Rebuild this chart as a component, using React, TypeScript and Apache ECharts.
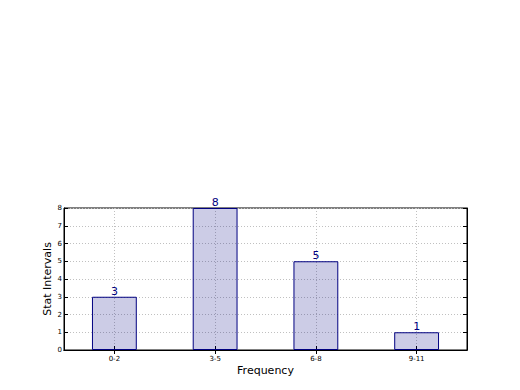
import React, { useEffect, useRef } from "react";
import * as echarts from "echarts";

const categories = ["0-2", "3-5", "6-8", "9-11"];
const values = [3, 8, 5, 1];
const yMin = 0;
const yMax = 8;
const yStep = 1;

const FONT = "DejaVu Sans";

export default function App() {
  const ref = useRef<HTMLDivElement>(null);
  useEffect(() => {
    const chart = echarts.init(ref.current!, null, { renderer: "svg" });
    const gridLine = { show: true, alignWithLabel: true, lineStyle: { color: "#c0c0c0", type: [1, 2], width: 1 } };
    const tick = { show: true, inside: true, length: 4, alignWithLabel: true, lineStyle: { color: "#000" } };
    chart.setOption({
      animation: false,
      backgroundColor: "#fff",
      textStyle: { fontFamily: FONT },
      grid: { left: 64, right: 53, top: 208, bottom: 40, show: true, borderColor: "#000", borderWidth: 1, backgroundColor: "transparent" },
      xAxis: [
        {
          type: "category",
          data: categories,
          boundaryGap: true,
          axisLine: { show: true, lineStyle: { color: "#000" } },
          axisTick: tick,
          axisLabel: { fontSize: 7, color: "#000", margin: 5, fontFamily: FONT },
          splitLine: gridLine,
          name: "Frequency",
          nameLocation: "middle",
          nameGap: 15,
          nameMoveOverlap: false,
          nameTextStyle: { fontSize: 11, color: "#000", fontFamily: FONT },
        },
        {
          type: "category",
          data: categories,
          position: "top",
          boundaryGap: true,
          axisLine: { show: true, lineStyle: { color: "#000" } },
          axisTick: tick,
          axisLabel: { show: false },
          splitLine: { show: false },
        },
      ],
      yAxis: [
        {
          type: "value",
          min: yMin,
          max: yMax,
          interval: yStep,
          axisLine: { show: true, lineStyle: { color: "#000" } },
          axisTick: tick,
          axisLabel: { fontSize: 7, color: "#000", margin: 2, fontFamily: FONT },
          splitLine: { show: true, lineStyle: { color: "#c0c0c0", type: [1, 2], width: 1 } },
          name: "Stat Intervals",
          nameLocation: "middle",
          nameGap: 11,
          nameMoveOverlap: false,
          nameRotate: 90,
          nameTextStyle: { fontSize: 11, color: "#000", fontFamily: FONT },
        },
        {
          type: "value",
          position: "right",
          min: yMin,
          max: yMax,
          interval: yStep,
          axisLine: { show: true, lineStyle: { color: "#000" } },
          axisTick: tick,
          axisLabel: { show: false },
          splitLine: { show: false },
        },
      ],
      series: [
        {
          type: "bar",
          xAxisIndex: 0,
          yAxisIndex: 0,
          data: values,
          barWidth: "44.5%",
          itemStyle: { color: "rgba(0,0,128,0.2)", borderColor: "#000080", borderWidth: 1 },
          label: { show: true, position: "top", distance: 0, color: "#000080", fontSize: 11, fontFamily: FONT },
        },
      ],
    });
    return () => chart.dispose();
  }, []);
  return <div ref={ref} style={{ position: "fixed", left: 0, top: 0, width: 520, height: 390 }} />;
}
